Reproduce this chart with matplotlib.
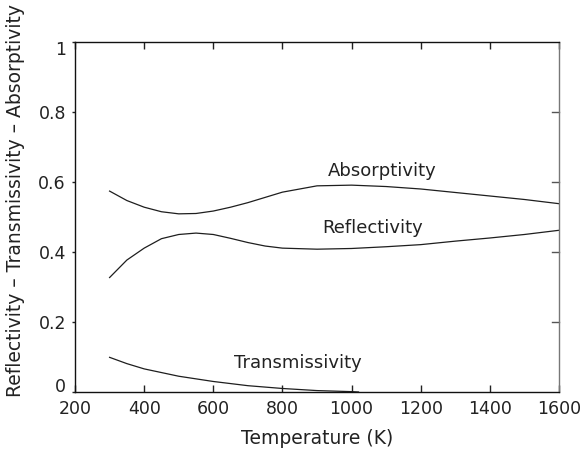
import matplotlib
matplotlib.use("Agg")
import matplotlib.pyplot as plt
import matplotlib.transforms as mtransforms

plt.rcParams['font.family'] = ['DejaVu Sans']

# Temperature grid (K)
temp = [300, 350, 400, 450, 500, 550, 600, 650, 700, 750, 800, 900,
        1000, 1100, 1200, 1300, 1400, 1500, 1600]

absorptivity = [0.574, 0.547, 0.528, 0.515, 0.509, 0.510, 0.517, 0.528, 0.541,
                0.556, 0.571, 0.589, 0.591, 0.587, 0.580, 0.570, 0.560, 0.550, 0.538]

reflectivity = [0.327, 0.377, 0.411, 0.438, 0.450, 0.454, 0.450, 0.439, 0.427,
                0.417, 0.411, 0.408, 0.410, 0.415, 0.421, 0.431, 0.440, 0.450, 0.462]

temp_t = [300, 350, 400, 500, 600, 700, 800, 900, 1000, 1020]
transmissivity = [0.099, 0.081, 0.066, 0.045, 0.030, 0.018, 0.010, 0.004, 0.001, 0.0]

xticks = [200, 400, 600, 800, 1000, 1200, 1400, 1600]
yticks = [0, 0.2, 0.4, 0.6, 0.8, 1]
ytick_labels = ["0", "0.2", "0.4", "0.6", "0.8", "1"]

fig = plt.figure(figsize=(5.82, 4.55), dpi=100)
ax = fig.add_axes([0.1289, 0.1385, 0.8316, 0.7692])

col = "#1e1e1e"
ax.plot(temp, absorptivity, color=col, lw=0.9)
ax.plot(temp, reflectivity, color=col, lw=0.9)
ax.plot(temp_t, transmissivity, color=col, lw=0.9, clip_on=False)

ax.text(1090, 0.632, "Absorptivity", fontsize=13, ha="center", va="center", color="#222222")
ax.text(1060, 0.468, "Reflectivity", fontsize=13, ha="center", va="center", color="#222222")
ax.text(845, 0.083, "Transmissivity", fontsize=13, ha="center", va="center", color="#222222")

ax.set_xlim(200, 1600)
ax.set_ylim(0, 1)
ax.set_xticks(xticks)
ax.set_yticks(yticks)
ax.set_yticklabels(ytick_labels)

ax.tick_params(axis="x", direction="in", top=True, length=5, width=1, labelsize=12.5,
               colors="#222222", pad=6)
ax.tick_params(axis="y", which="both", left=True, right=False, direction="out",
               length=2.5, width=1, labelsize=12.5, colors="#222222", pad=4)
# right side ticks point inward
for y in yticks[1:-1]:
    ax.plot([1600, 1600 - 19], [y, y], color="#555555", lw=1, clip_on=False)

# nudge the end labels of the y axis inward
labs = ax.get_yticklabels()
labs[0].set_transform(labs[0].get_transform() +
                      mtransforms.ScaledTranslation(0, 5 / 72, fig.dpi_scale_trans))
labs[-1].set_transform(labs[-1].get_transform() +
                       mtransforms.ScaledTranslation(0, -4 / 72, fig.dpi_scale_trans))

for s in ["left", "bottom", "top"]:
    ax.spines[s].set_color("#111111")
    ax.spines[s].set_linewidth(1.0)
ax.spines["right"].set_color("#777777")
ax.spines["right"].set_linewidth(1.0)

ax.set_xlabel("Temperature (K)", fontsize=13.5, color="#222222", labelpad=8)
ax.set_ylabel("Reflectivity \u2013 Transmissivity \u2013 Absorptivity", fontsize=13.5,
              color="#222222")
ax.yaxis.set_label_coords(-0.103, 0.546)

fig.savefig("out.png", dpi=100)
